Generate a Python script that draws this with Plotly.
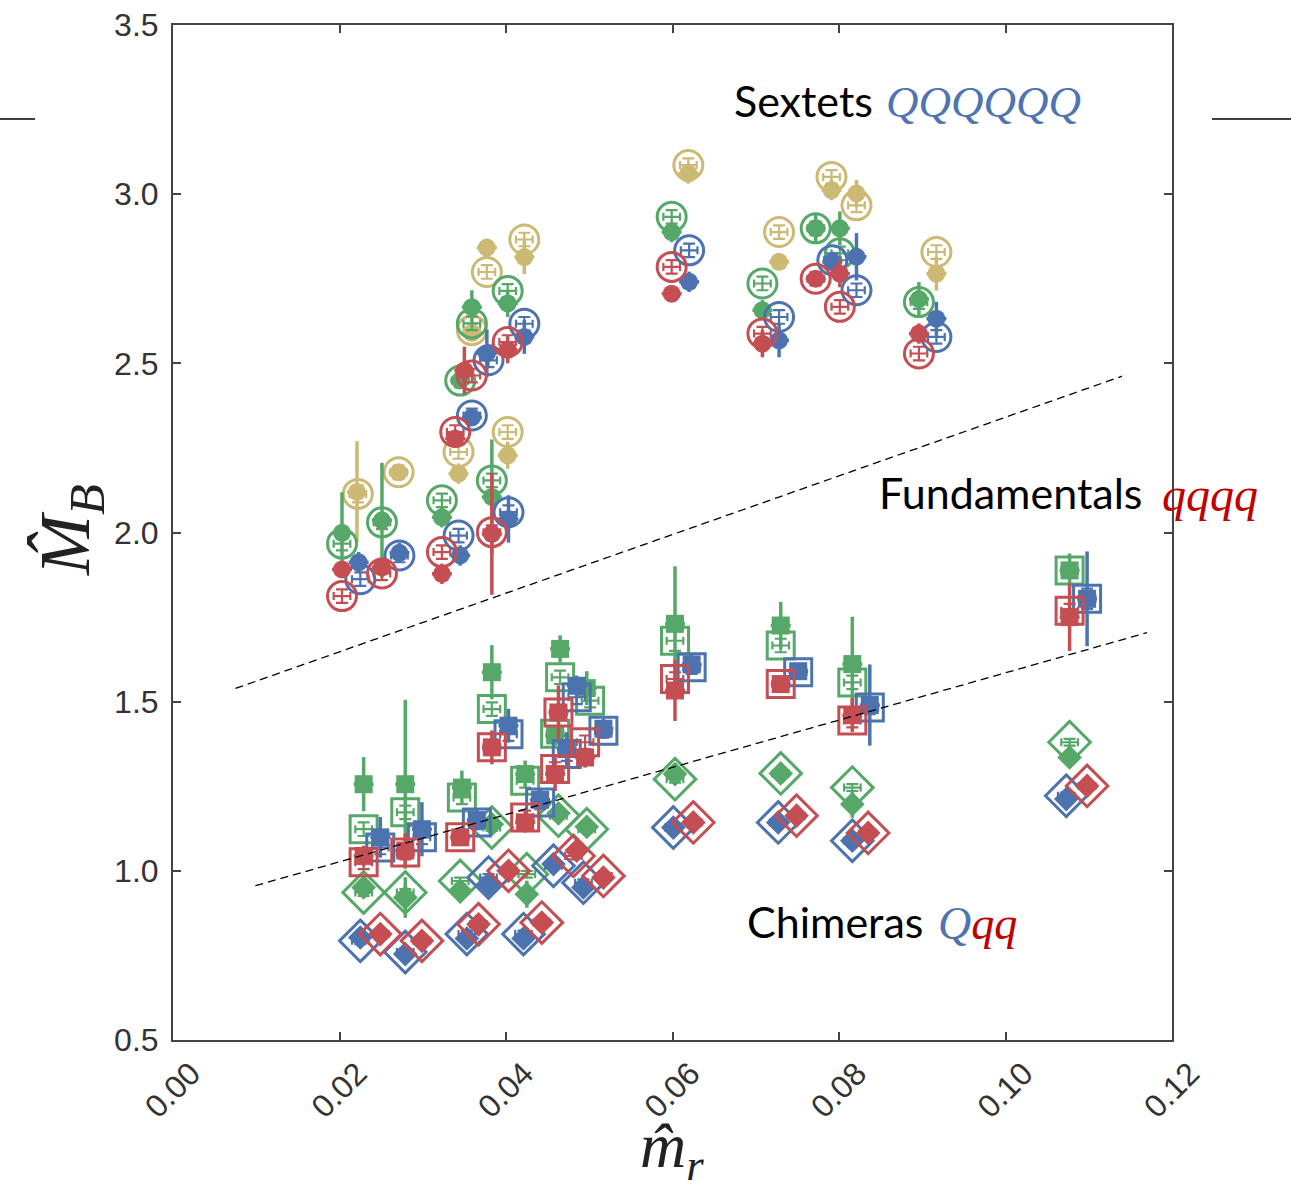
import plotly.graph_objects as go

# ---------------- data ----------------
x_tick_vals = [0.00, 0.02, 0.04, 0.06, 0.08, 0.10, 0.12]
x_tick_text = ["0.00", "0.02", "0.04", "0.06", "0.08", "0.10", "0.12"]
y_tick_vals = [0.5, 1.0, 1.5, 2.0, 2.5, 3.0, 3.5]
y_tick_text = ["0.5", "1.0", "1.5", "2.0", "2.5", "3.0", "3.5"]

# dashed separator lines
upper_line_x = [0.0075, 0.1140]
upper_line_y = [1.539, 2.462]
lower_line_x = [0.0099, 0.1170]
lower_line_y = [0.956, 1.704]

# ---- sextets (circles) ----
gold_open_x = [0.0222, 0.0271, 0.0343, 0.0359, 0.0377, 0.0402, 0.0422, 0.0619, 0.0728, 0.0791, 0.0821, 0.0917]
gold_open_y = [2.114, 2.178, 2.238, 2.598, 2.770, 2.297, 2.866, 3.086, 2.888, 3.051, 2.967, 2.829]
gold_open_e = [0.025, 0.02, 0.02, 0.02, 0.02, 0.02, 0.02, 0.02, 0.02, 0.02, 0.02, 0.02]
gold_fill_x = [0.0221, 0.0271, 0.0343, 0.0359, 0.0377, 0.0402, 0.0422, 0.0619, 0.0728, 0.0791, 0.0821, 0.0917]
gold_fill_y = [2.120, 2.178, 2.174, 2.590, 2.842, 2.228, 2.814, 3.061, 2.800, 3.012, 3.002, 2.765]
gold_fill_e = [0.15, 0.02, 0.03, 0.02, 0.02, 0.04, 0.05, 0.03, 0.02, 0.03, 0.04, 0.05]

green_c_open_x = [0.0203, 0.0251, 0.0323, 0.0345, 0.0359, 0.0383, 0.0402, 0.0599, 0.0708, 0.0772, 0.0801, 0.0896]
green_c_open_y = [1.967, 2.030, 2.095, 2.449, 2.618, 2.154, 2.714, 2.933, 2.736, 2.899, 2.825, 2.681]
green_c_open_e = [0.02, 0.02, 0.02, 0.02, 0.02, 0.02, 0.02, 0.02, 0.02, 0.02, 0.02, 0.02]
green_c_fill_x = [0.0203, 0.0251, 0.0323, 0.0345, 0.0359, 0.0383, 0.0402, 0.0599, 0.0708, 0.0772, 0.0801, 0.0896]
green_c_fill_y = [1.999, 2.036, 2.045, 2.449, 2.666, 2.105, 2.677, 2.888, 2.657, 2.899, 2.899, 2.690]
green_c_fill_e = [0.12, 0.17, 0.03, 0.02, 0.05, 0.17, 0.04, 0.03, 0.03, 0.04, 0.05, 0.05]

blue_c_open_x = [0.0225, 0.0272, 0.0343, 0.0359, 0.0379, 0.0403, 0.0422, 0.0620, 0.0728, 0.0792, 0.0821, 0.0917]
blue_c_open_y = [1.862, 1.932, 1.991, 2.346, 2.509, 2.060, 2.617, 2.834, 2.637, 2.805, 2.716, 2.578]
blue_c_open_e = [0.02, 0.02, 0.02, 0.02, 0.02, 0.02, 0.02, 0.02, 0.02, 0.02, 0.02, 0.02]
blue_c_fill_x = [0.0223, 0.0272, 0.0345, 0.0359, 0.0377, 0.0403, 0.0422, 0.0620, 0.0728, 0.0792, 0.0821, 0.0917]
blue_c_fill_y = [1.912, 1.940, 1.932, 2.340, 2.530, 2.040, 2.578, 2.741, 2.568, 2.800, 2.815, 2.632]
blue_c_fill_e = [0.03, 0.03, 0.03, 0.02, 0.07, 0.07, 0.05, 0.03, 0.05, 0.03, 0.07, 0.05]

red_c_open_x = [0.0203, 0.0251, 0.0323, 0.0339, 0.0359, 0.0383, 0.0402, 0.0599, 0.0708, 0.0772, 0.0801, 0.0896]
red_c_open_y = [1.812, 1.879, 1.942, 2.297, 2.464, 2.001, 2.563, 2.785, 2.588, 2.750, 2.667, 2.529]
red_c_open_e = [0.02, 0.02, 0.02, 0.02, 0.02, 0.02, 0.02, 0.02, 0.02, 0.02, 0.02, 0.02]
red_c_fill_x = [0.0203, 0.0251, 0.0323, 0.0339, 0.0350, 0.0383, 0.0402, 0.0599, 0.0708, 0.0772, 0.0801, 0.0896]
red_c_fill_y = [1.891, 1.897, 1.878, 2.278, 2.479, 1.996, 2.540, 2.706, 2.558, 2.750, 2.765, 2.588]
red_c_fill_e = [0.02, 0.02, 0.03, 0.02, 0.07, 0.18, 0.04, 0.02, 0.04, 0.02, 0.04, 0.03]

# ---- chimeras (squares) ----
green_s_open_x = [0.0229, 0.0279, 0.0347, 0.0383, 0.0423, 0.0465, 0.0459, 0.0501, 0.0603, 0.0730, 0.0816, 0.1077]
green_s_open_y = [1.123, 1.173, 1.217, 1.478, 1.266, 1.572, 1.405, 1.503, 1.680, 1.666, 1.557, 1.888]
green_s_open_e = [0.02, 0.02, 0.02, 0.02, 0.02, 0.02, 0.02, 0.02, 0.03, 0.02, 0.02, 0.02]
green_s_fill_x = [0.0229, 0.0279, 0.0347, 0.0383, 0.0423, 0.0465, 0.0459, 0.0497, 0.0603, 0.0730, 0.0816, 0.1077]
green_s_fill_y = [1.256, 1.256, 1.246, 1.587, 1.286, 1.656, 1.400, 1.540, 1.730, 1.725, 1.611, 1.888]
green_s_fill_e = [0.08, 0.25, 0.05, 0.08, 0.04, 0.04, 0.03, 0.05, 0.17, 0.07, 0.14, 0.05]

blue_s_open_x = [0.0249, 0.0299, 0.0365, 0.0403, 0.0441, 0.0485, 0.0473, 0.0517, 0.0623, 0.0751, 0.0837, 0.1098]
blue_s_open_y = [1.069, 1.099, 1.143, 1.404, 1.202, 1.513, 1.345, 1.414, 1.602, 1.587, 1.483, 1.804]
blue_s_open_e = [0.02, 0.02, 0.02, 0.02, 0.02, 0.02, 0.02, 0.02, 0.02, 0.02, 0.02, 0.03]
blue_s_fill_x = [0.0249, 0.0299, 0.0365, 0.0403, 0.0441, 0.0485, 0.0473, 0.0517, 0.0623, 0.0751, 0.0837, 0.1098]
blue_s_fill_y = [1.099, 1.123, 1.150, 1.429, 1.210, 1.547, 1.360, 1.420, 1.610, 1.590, 1.490, 1.804]
blue_s_fill_e = [0.06, 0.08, 0.03, 0.05, 0.03, 0.03, 0.05, 0.03, 0.03, 0.02, 0.12, 0.14]

red_s_open_x = [0.0229, 0.0279, 0.0345, 0.0383, 0.0423, 0.0463, 0.0459, 0.0495, 0.0603, 0.0730, 0.0816, 0.1077]
red_s_open_y = [1.025, 1.054, 1.099, 1.365, 1.158, 1.468, 1.301, 1.380, 1.567, 1.552, 1.444, 1.769]
red_s_open_e = [0.02, 0.02, 0.02, 0.02, 0.02, 0.02, 0.02, 0.02, 0.02, 0.02, 0.02, 0.02]
red_s_fill_x = [0.0229, 0.0279, 0.0345, 0.0383, 0.0423, 0.0463, 0.0459, 0.0495, 0.0603, 0.0730, 0.0816, 0.1077]
red_s_fill_y = [1.044, 1.060, 1.099, 1.365, 1.143, 1.468, 1.286, 1.335, 1.533, 1.552, 1.460, 1.750]
red_s_fill_e = [0.03, 0.05, 0.02, 0.05, 0.03, 0.08, 0.05, 0.03, 0.09, 0.02, 0.05, 0.10]

# ---- chimeras (diamonds) ----
green_d_open_x = [0.0229, 0.0279, 0.0345, 0.0383, 0.0425, 0.0463, 0.0497, 0.0603, 0.0730, 0.0816, 0.1077]
green_d_open_y = [0.936, 0.936, 0.970, 1.128, 0.990, 1.163, 1.123, 1.271, 1.288, 1.246, 1.380]
green_d_open_e = [0.01, 0.01, 0.01, 0.01, 0.01, 0.01, 0.01, 0.01, 0.01, 0.01, 0.01]
green_d_fill_x = [0.0229, 0.0279, 0.0345, 0.0383, 0.0425, 0.0463, 0.0497, 0.0603, 0.0730, 0.0816, 0.1077]
green_d_fill_y = [0.951, 0.921, 0.941, 1.138, 0.931, 1.170, 1.130, 1.286, 1.288, 1.197, 1.335]
green_d_fill_e = [0.02, 0.06, 0.02, 0.03, 0.04, 0.03, 0.02, 0.03, 0.02, 0.04, 0.02]

blue_d_open_x = [0.0225, 0.0279, 0.0353, 0.0379, 0.0421, 0.0457, 0.0493, 0.0601, 0.0727, 0.0816, 0.1073]
blue_d_open_y = [0.793, 0.760, 0.813, 0.980, 0.813, 1.015, 0.965, 1.128, 1.143, 1.089, 1.222]
blue_d_open_e = [0.01, 0.01, 0.01, 0.01, 0.01, 0.01, 0.01, 0.01, 0.01, 0.01, 0.01]
blue_d_fill_x = [0.0225, 0.0279, 0.0353, 0.0379, 0.0421, 0.0457, 0.0493, 0.0601, 0.0727, 0.0816, 0.1073]
blue_d_fill_y = [0.803, 0.754, 0.800, 0.960, 0.800, 1.020, 0.951, 1.128, 1.143, 1.089, 1.212]
blue_d_fill_e = [0.01, 0.01, 0.01, 0.01, 0.01, 0.01, 0.01, 0.01, 0.01, 0.01, 0.01]

red_d_open_x = [0.0249, 0.0299, 0.0367, 0.0403, 0.0443, 0.0481, 0.0517, 0.0625, 0.0749, 0.0835, 0.1098]
red_d_open_y = [0.813, 0.793, 0.842, 1.000, 0.847, 1.044, 0.985, 1.143, 1.163, 1.112, 1.251]
red_d_open_e = [0.01, 0.01, 0.01, 0.01, 0.01, 0.01, 0.01, 0.01, 0.01, 0.01, 0.01]
red_d_fill_x = [0.0249, 0.0299, 0.0367, 0.0403, 0.0443, 0.0485, 0.0517, 0.0625, 0.0749, 0.0835, 0.1098]
red_d_fill_y = [0.813, 0.793, 0.842, 1.000, 0.847, 1.060, 0.980, 1.143, 1.163, 1.112, 1.251]
red_d_fill_e = [0.01, 0.01, 0.01, 0.01, 0.01, 0.02, 0.01, 0.01, 0.01, 0.01, 0.01]

# ---------------- styles ----------------
GREEN = "#55A868"
BLUE = "#4C72B0"
RED = "#C44E52"
GOLD = "#CCB974"
TXT_BLUE = "#4E74B2"
TXT_RED = "#C00000"

fig = go.Figure()

def add_open(x, y, e, color, symbol, size):
    fig.add_trace(go.Scatter(
        x=x, y=y, mode="markers",
        marker=dict(symbol=symbol + "-open", size=size, color=color,
                    line=dict(width=3, color=color)),
        error_y=dict(type="data", array=e, color=color, thickness=2.2, width=6),
        error_x=dict(type="constant", value=0.0010, color=color, thickness=2.2, width=4),
        showlegend=False, hoverinfo="skip"))

def add_fill(x, y, e, color, symbol, size):
    fig.add_trace(go.Scatter(
        x=x, y=y, mode="markers",
        marker=dict(symbol=symbol, size=size, color=color, line=dict(width=0)),
        error_y=dict(type="data", array=e, color=color, thickness=3.5, width=0),
        error_x=dict(type="constant", value=0.0012, color=color, thickness=3.5, width=0),
        showlegend=False, hoverinfo="skip"))

# diamonds
add_open(green_d_open_x, green_d_open_y, green_d_open_e, GREEN, "diamond", 32)
add_fill(green_d_fill_x, green_d_fill_y, green_d_fill_e, GREEN, "diamond", 19)
add_open(blue_d_open_x, blue_d_open_y, blue_d_open_e, BLUE, "diamond", 32)
add_fill(blue_d_fill_x, blue_d_fill_y, blue_d_fill_e, BLUE, "diamond", 19)
add_open(red_d_open_x, red_d_open_y, red_d_open_e, RED, "diamond", 32)
add_fill(red_d_fill_x, red_d_fill_y, red_d_fill_e, RED, "diamond", 19)
# squares
add_open(green_s_open_x, green_s_open_y, green_s_open_e, GREEN, "square", 27)
add_fill(green_s_fill_x, green_s_fill_y, green_s_fill_e, GREEN, "square", 18)
add_open(blue_s_open_x, blue_s_open_y, blue_s_open_e, BLUE, "square", 27)
add_fill(blue_s_fill_x, blue_s_fill_y, blue_s_fill_e, BLUE, "square", 18)
add_open(red_s_open_x, red_s_open_y, red_s_open_e, RED, "square", 27)
add_fill(red_s_fill_x, red_s_fill_y, red_s_fill_e, RED, "square", 18)
# circles
add_open(gold_open_x, gold_open_y, gold_open_e, GOLD, "circle", 29)
add_fill(gold_fill_x, gold_fill_y, gold_fill_e, GOLD, "circle", 18)
add_open(green_c_open_x, green_c_open_y, green_c_open_e, GREEN, "circle", 29)
add_fill(green_c_fill_x, green_c_fill_y, green_c_fill_e, GREEN, "circle", 18)
add_open(blue_c_open_x, blue_c_open_y, blue_c_open_e, BLUE, "circle", 29)
add_fill(blue_c_fill_x, blue_c_fill_y, blue_c_fill_e, BLUE, "circle", 18)
add_open(red_c_open_x, red_c_open_y, red_c_open_e, RED, "circle", 29)
add_fill(red_c_fill_x, red_c_fill_y, red_c_fill_e, RED, "circle", 18)

# dashed lines
for lx, ly in [(upper_line_x, upper_line_y), (lower_line_x, lower_line_y)]:
    fig.add_trace(go.Scatter(x=lx, y=ly, mode="lines",
                             line=dict(color="black", width=1.3, dash="8px,5px"),
                             showlegend=False, hoverinfo="skip"))

axis_common = dict(
    showline=True, linecolor="#444444", linewidth=2, mirror="ticks",
    ticks="inside", ticklen=8, tickwidth=1.5, tickcolor="#444444",
    showgrid=False, zeroline=False, automargin=False,
    tickfont=dict(family="Liberation Sans, Arial", size=32, color="#333333"),
)

fig.update_layout(
    width=1291, height=1196,
    margin=dict(l=173, r=119, t=25, b=156),
    plot_bgcolor="white", paper_bgcolor="white",
    xaxis=dict(range=[0, 0.12], tickvals=x_tick_vals, ticktext=x_tick_text,
               tickangle=-45, ticklabelshift=18, ticklabelstandoff=0, **axis_common),
    yaxis=dict(range=[0.5, 3.5], tickvals=y_tick_vals, ticktext=y_tick_text,
               ticklabelstandoff=6, **axis_common),
    showlegend=False,
)

def px_x(px):
    return (px - 173) / 999.0

def px_y(py):
    return (1040 - py) / 1015.0

annos = []
# axis titles
annos.append(dict(text="<i>M\u0302</i><sub><i>B</i></sub>", x=px_x(70), y=px_y(530),
                  xref="paper", yref="paper", showarrow=False, textangle=-90,
                  xanchor="center", yanchor="middle",
                  font=dict(family="Liberation Serif, serif", size=72, color="#222222")))
annos.append(dict(text="<i>m\u0302</i><sub><i>r</i></sub>", x=px_x(672), y=px_y(1150),
                  xref="paper", yref="paper", showarrow=False,
                  xanchor="center", yanchor="middle",
                  font=dict(family="Liberation Serif, serif", size=64, color="#222222")))
# category labels
word_font = dict(family="Lato, Open Sans", size=43, color="black")
math_font = dict(family="Liberation Serif, serif", size=45, color=TXT_BLUE)
annos.append(dict(text="Sextets", x=px_x(732), y=px_y(100), xref="paper", yref="paper",
                  showarrow=False, xanchor="left", yanchor="middle", font=word_font))
annos.append(dict(text="<i>QQQQQQ</i>", x=px_x(884), y=px_y(102), xref="paper", yref="paper",
                  showarrow=False, xanchor="left", yanchor="middle", font=math_font))
annos.append(dict(text="Fundamentals", x=px_x(877), y=px_y(492), xref="paper", yref="paper",
                  showarrow=False, xanchor="left", yanchor="middle", font=word_font))
annos.append(dict(text="<i>qqqq</i>", x=px_x(1160), y=px_y(494), xref="paper", yref="paper",
                  showarrow=False, xanchor="left", yanchor="middle",
                  font=dict(family="Liberation Serif, serif", size=48, color=TXT_RED)))
annos.append(dict(text="Chimeras", x=px_x(745), y=px_y(921), xref="paper", yref="paper",
                  showarrow=False, xanchor="left", yanchor="middle", font=word_font))
annos.append(dict(text="<i><span style='color:%s'>Q</span><span style='color:%s'>qq</span></i>" % (TXT_BLUE, TXT_RED),
                  x=px_x(936), y=px_y(923), xref="paper", yref="paper",
                  showarrow=False, xanchor="left", yanchor="middle",
                  font=dict(family="Liberation Serif, serif", size=46, color=TXT_BLUE)))
fig.update_layout(annotations=annos)

# stray horizontal rules at the sides of the slide
fig.add_shape(type="line", xref="paper", yref="paper", x0=px_x(0), x1=px_x(35),
              y0=px_y(119), y1=px_y(119), line=dict(color="black", width=1.3))
fig.add_shape(type="line", xref="paper", yref="paper", x0=px_x(1212), x1=px_x(1291),
              y0=px_y(119), y1=px_y(119), line=dict(color="black", width=1.3))

fig.write_html("out.html")
